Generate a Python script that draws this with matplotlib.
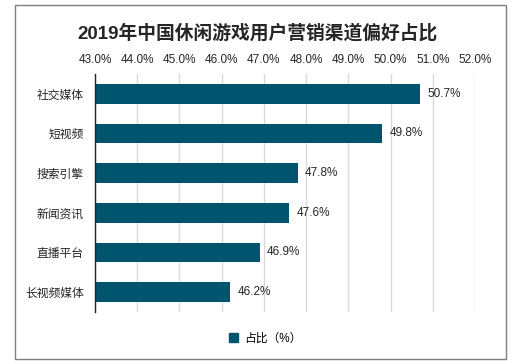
import matplotlib.pyplot as plt
import matplotlib.patches as mpatches

plt.rcParams['font.family'] = ['Liberation Sans', 'Noto Sans CJK SC', 'DejaVu Sans']

categories = ['社交媒体', '短视频', '搜索引擎', '新闻资讯', '直播平台', '长视频媒体']
values = [50.7, 49.8, 47.8, 47.6, 46.9, 46.2]
ticks = [43, 44, 45, 46, 47, 48, 49, 50, 51, 52]
bar_color = '#00546e'

W, H = 516, 364
fig = plt.figure(figsize=(W / 100, H / 100), dpi=100)

# outer frame
fig.patches.append(mpatches.Rectangle((15 / W, 1 - 359 / H), 491 / W, 354 / H,
                                      transform=fig.transFigure, fill=False,
                                      edgecolor='#7f7f7f', linewidth=1.0))

ax = fig.add_axes([95 / W, 1 - 312 / H, 380 / W, 238 / H])
pos = list(range(len(categories)))
ax.barh(pos, [v - 43 for v in values], left=43, height=0.5, color=bar_color, zorder=3)
ax.set_xlim(43, 52)
ax.set_ylim(len(categories) - 0.5, -0.5)
ax.set_yticks(pos)
ax.set_yticklabels(categories, fontsize=8.5, color='#262626')
ax.xaxis.tick_top()
ax.set_xticks(ticks)
ax.set_xticklabels([f'{t:.1f}%' for t in ticks], fontsize=8.5, color='#262626')
ax.tick_params(axis='x', length=0, pad=6)
ax.tick_params(axis='y', length=0, pad=8)
ax.grid(axis='x', color='#d9d9d9', linewidth=1.0, zorder=0)
for s in ['top', 'right', 'bottom']:
    ax.spines[s].set_visible(False)
ax.spines['left'].set_color('#262626')
ax.spines['left'].set_linewidth(1.0)
ax.spines['left'].set_zorder(4)

for p, v in zip(pos, values):
    ax.text(v + 0.17, p, f'{v}%', va='center', ha='left', fontsize=8.5, color='#262626')

fig.text(258 / W, 1 - 33 / H, '2019年中国休闲游戏用户营销渠道偏好占比', ha='center', va='center',
         fontsize=13.5, fontweight='bold', color='#262626')

handle = mpatches.Patch(color=bar_color)
fig.legend([handle], ['占比（%）'], loc='center', bbox_to_anchor=(265 / W, 1 - 339 / H),
           frameon=False, fontsize=8.5, handlelength=0.8, handleheight=0.8, handletextpad=0.5)

fig.savefig('out.png', dpi=100)
